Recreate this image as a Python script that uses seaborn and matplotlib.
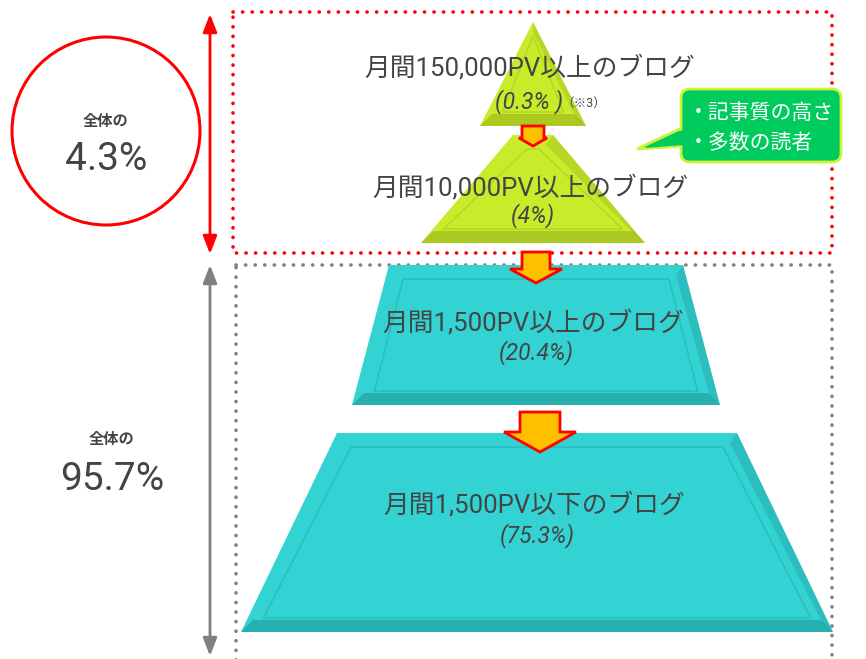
import matplotlib
matplotlib.use('Agg')
import matplotlib.pyplot as plt
import seaborn as sns
from matplotlib.patches import Polygon, Rectangle, Circle, FancyBboxPatch

sns.set_theme(style='white')
plt.rcParams['font.family'] = ['Roboto', 'Noto Sans CJK JP', 'DejaVu Sans']

# data
tier_labels = ['月間150,000PV以上のブログ', '月間10,000PV以上のブログ',
               '月間1,500PV以上のブログ', '月間1,500PV以下のブログ']
tier_shares = [0.3, 4, 20.4, 75.3]
group_shares = [4.3, 95.7]
group_prefix = '全体の'
callout_lines = ['・記事質の高さ', '・多数の読者']
note_mark = '（※3）'

green, cyan = '#C9EC2A', '#33D3D3'
tier_colors = [green, green, cyan, cyan]
dark_colors = ['#8FA81A', '#8FA81A', '#1F8F8F', '#1F8F8F']
text_col = '#444444'

# tier geometry (pixel coords): top y, bottom y, top half width, bottom half width, center x
tiers = [(22, 126, 0, 53, 533),
         (135, 243, 20, 112, 533),
         (265, 405, 147, 184, 536),
         (433, 632, 200, 296, 537)]
label_y = [(68, 102), (188, 216), (323, 353), (505, 536)]

fig = plt.figure(figsize=(8.66, 6.59), dpi=100)
ax = fig.add_axes([0, 0, 1, 1])
ax.set_xlim(0, 866)
ax.set_ylim(659, 0)
ax.axis('off')

# dotted frames
ax.add_patch(Rectangle((233, 12), 599, 241, fill=False, ec='#FF0000', lw=2.6,
                       ls=(0, (0.05, 2.6)), capstyle='round', zorder=1))
ax.add_patch(Rectangle((236, 265), 596, 400, fill=False, ec='#808080', lw=2.6,
                       ls=(0, (0.05, 2.6)), capstyle='round', zorder=1))

# pyramid tiers
for (yt, yb, wt, wb, cx), col, dk in zip(tiers, tier_colors, dark_colors):
    ax.add_patch(Polygon([(cx - wt, yt), (cx + wt, yt), (cx + wb, yb), (cx - wb, yb)],
                         closed=True, fc=col, ec='none', zorder=2))
    # right side shading
    ax.add_patch(Polygon([(cx + wt, yt), (cx + wb, yb), (cx + wb - 10, yb - 8),
                          (cx + wt - 7 if wt > 0 else cx, yt + 10)],
                         closed=True, fc=dk, ec='none', alpha=0.3, zorder=3))
    # bottom band
    ax.add_patch(Polygon([(cx - wb, yb), (cx + wb, yb), (cx + wb - 12, yb - 12),
                          (cx - wb + 12, yb - 12)],
                         closed=True, fc=dk, ec='none', alpha=0.5, zorder=3))
    # inner bevel line
    ins = 14
    ax.add_patch(Polygon([(cx - max(wt - ins, 0), yt + ins), (cx + max(wt - ins, 0), yt + ins),
                          (cx + wb - ins * 1.6, yb - ins), (cx - wb + ins * 1.6, yb - ins)],
                         closed=True, fill=False, ec=dk, lw=1.2, alpha=0.3, zorder=3))


def block_arrow(cx, top, bottom, shaft, head, head_len):
    pts = [(cx - shaft / 2, top), (cx + shaft / 2, top), (cx + shaft / 2, bottom - head_len),
           (cx + head / 2, bottom - head_len), (cx, bottom), (cx - head / 2, bottom - head_len),
           (cx - shaft / 2, bottom - head_len)]
    ax.add_patch(Polygon(pts, closed=True, fc='#FFC000', ec='#FF0000', lw=2, zorder=5))


block_arrow(533, 126, 146, 22, 28, 8)
block_arrow(536, 252, 283, 28, 52, 14)
block_arrow(540, 412, 452, 40, 72, 20)

# tier labels
for lab, share, (y1, y2), (yt, yb, wt, wb, cx) in zip(tier_labels, tier_shares, label_y, tiers):
    ax.text(cx - 3, y1, lab, ha='center', va='center', fontsize=18.5, color=text_col, zorder=6)
    if share == tier_shares[0]:
        ax.text(cx + 30, y2, f'({share}% )', ha='right', va='center', fontsize=16.5,
                style='italic', color=text_col, zorder=6)
        ax.text(cx + 28, y2 + 1, note_mark, ha='left', va='center', fontsize=9,
                color=text_col, zorder=6)
    else:
        ax.text(cx, y2, f'({share:g}%)', ha='center', va='center', fontsize=16.5,
                style='italic', color=text_col, zorder=6)

# left side: double arrows
ax.annotate('', xy=(210, 14), xytext=(210, 254),
            arrowprops=dict(arrowstyle='<|-|>,head_length=0.9,head_width=0.35',
                            color='#FF0000', lw=2, shrinkA=0, shrinkB=0))
ax.annotate('', xy=(210, 265), xytext=(210, 656),
            arrowprops=dict(arrowstyle='<|-|>,head_length=0.9,head_width=0.35',
                            color='#808080', lw=2, shrinkA=0, shrinkB=0))

ax.add_patch(Circle((106, 131), 94, fill=False, ec='#FF0000', lw=2.2))
ax.text(106, 122, group_prefix, ha='center', va='center', fontsize=11,
        fontweight='bold', color=text_col)
ax.text(106, 159, f'{group_shares[0]}%', ha='center', va='center', fontsize=28, color=text_col)
ax.text(112, 440, group_prefix, ha='center', va='center', fontsize=11,
        fontweight='bold', color=text_col)
ax.text(112, 480, f'{group_shares[1]}%', ha='center', va='center', fontsize=28, color=text_col)

# callout bubble
bub_fc, bub_ec = '#00CC5E', '#CCF23A'
ax.add_patch(Polygon([(682, 128), (637, 149), (682, 146)], closed=True,
                     fc=bub_fc, ec=bub_ec, lw=2, zorder=6))
ax.add_patch(FancyBboxPatch((681, 89), 160, 73, boxstyle='round,pad=0,rounding_size=9',
                            fc=bub_fc, ec=bub_ec, lw=2, zorder=6))
ax.add_patch(Polygon([(685, 129), (645, 148), (685, 145)], closed=True,
                     fc=bub_fc, ec='none', zorder=7))
for i, line in enumerate(callout_lines):
    ax.text(688, 113 + i * 30, line, ha='left', va='center', fontsize=15,
            color='white', zorder=8)

fig.savefig('out.png', dpi=100)
